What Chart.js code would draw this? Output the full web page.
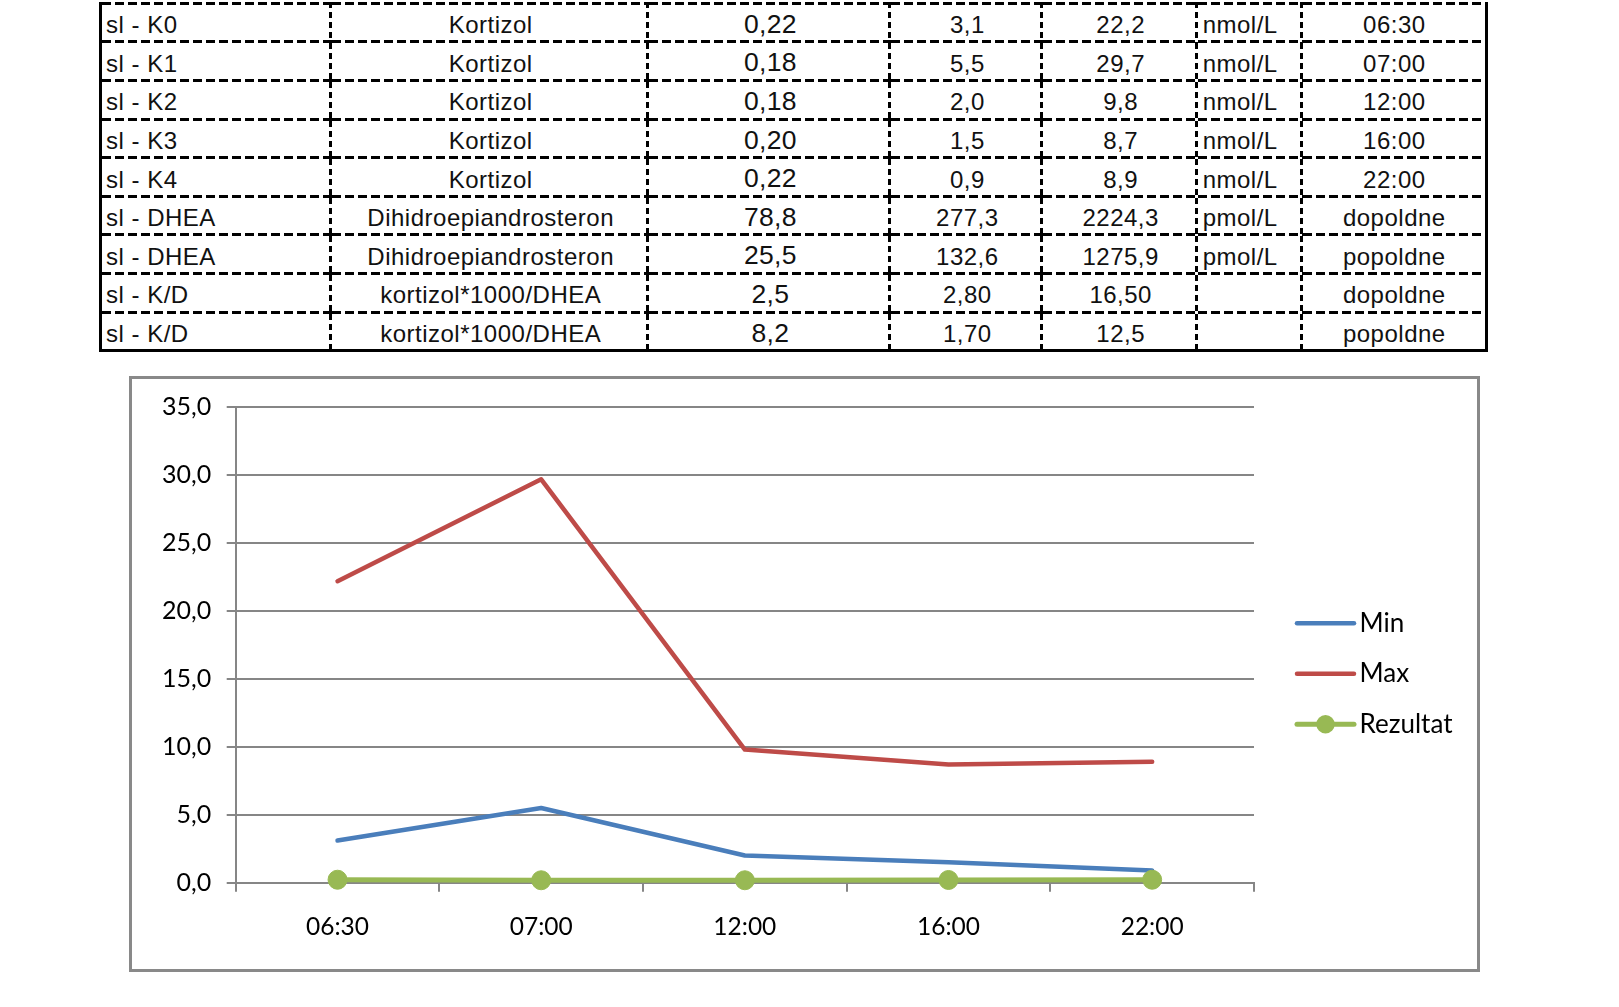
<!DOCTYPE html>
<html>
<head>
<meta charset="utf-8">
<script src="https://cdn.jsdelivr.net/npm/chart.js"></script>
<style>
  html, body { margin: 0; padding: 0; background: #fff; }
  body { width: 1619px; height: 1007px; position: relative; overflow: hidden; }
  #tbl {
    position: absolute; left: 98.5px; top: 1.8px;
    border-collapse: separate; border-spacing: 0; table-layout: fixed;
    border-left: 3px solid #000; border-right: 3px solid #000; border-bottom: 3px solid #000;
    font-family: "Liberation Sans", Arial, sans-serif; font-size: 24px; letter-spacing: 0.5px;
    color: #111;
  }
  #tbl td {
    height: 38.6px; box-sizing: border-box; padding: 6.4px 0 0 0; vertical-align: top;
    line-height: normal; white-space: nowrap; overflow: hidden; text-align: center;
    background:
      repeating-linear-gradient(90deg, #000 0 9px, transparent 9px 13px) left bottom / 100% 3px no-repeat,
      repeating-linear-gradient(180deg, #000 0 6px, transparent 6px 10px) right top / 3px 100% no-repeat;
  }
  #tbl tr:first-child td {
    height: 41.6px; padding-top: 9.4px;
    background:
      repeating-linear-gradient(90deg, #000 0 9px, transparent 9px 13px) left top / 100% 3px no-repeat,
      repeating-linear-gradient(90deg, #000 0 9px, transparent 9px 13px) left bottom / 100% 3px no-repeat,
      repeating-linear-gradient(180deg, #000 0 6px, transparent 6px 10px) right top / 3px 100% no-repeat;
  }
  #tbl tr:last-child td {
    height: 35.6px;
    background: repeating-linear-gradient(180deg, #000 0 6px, transparent 6px 10px) right top / 3px 100% no-repeat;
  }
  #tbl tr:last-child td:nth-child(7) { background: none; }
  #tbl tr:first-child td:nth-child(7) {
    background: repeating-linear-gradient(90deg, #000 0 9px, transparent 9px 13px) left top / 100% 3px no-repeat,
      repeating-linear-gradient(90deg, #000 0 9px, transparent 9px 13px) left bottom / 100% 3px no-repeat;
  }
  #tbl tr:not(:first-child):not(:last-child) td:nth-child(7) {
    background: repeating-linear-gradient(90deg, #000 0 9px, transparent 9px 13px) left bottom / 100% 3px no-repeat;
  }
  #tbl td:nth-child(1) { width: 230.7px; text-align: left; padding-left: 4.5px; }
  #tbl td:nth-child(2) { width: 317px; }
  #tbl td:nth-child(3) { width: 242.3px; font-size: 26.5px; letter-spacing: 0.3px; padding-top: 4.1px; }
  #tbl tr:first-child td:nth-child(3) { padding-top: 7.1px; }
  #tbl td:nth-child(4) { width: 151.7px; }
  #tbl td:nth-child(5) { width: 155px; }
  #tbl td:nth-child(6) { width: 105.3px; text-align: left; padding-left: 4.5px; }
  #tbl td:nth-child(7) { width: 181.7px; }
  #frame {
    position: absolute; left: 129px; top: 376px; width: 1351px; height: 596px;
    box-sizing: border-box; border: 3px solid #898989; background: #fff;
  }
  #frame canvas { display: block; }
</style>
</head>
<body>
<table id="tbl"></table>
<div id="frame"><canvas id="chart"></canvas></div>
<script>
  // table rows
  var tCodes = ['sl - K0', 'sl - K1', 'sl - K2', 'sl - K3', 'sl - K4', 'sl - DHEA', 'sl - DHEA', 'sl - K/D', 'sl - K/D'];
  var tNames = ['Kortizol', 'Kortizol', 'Kortizol', 'Kortizol', 'Kortizol',
    'Dihidroepiandrosteron', 'Dihidroepiandrosteron', 'kortizol*1000/DHEA', 'kortizol*1000/DHEA'];
  var tResults = ['0,22', '0,18', '0,18', '0,20', '0,22', '78,8', '25,5', '2,5', '8,2'];
  var tMins = ['3,1', '5,5', '2,0', '1,5', '0,9', '277,3', '132,6', '2,80', '1,70'];
  var tMaxs = ['22,2', '29,7', '9,8', '8,7', '8,9', '2224,3', '1275,9', '16,50', '12,5'];
  var tUnits = ['nmol/L', 'nmol/L', 'nmol/L', 'nmol/L', 'nmol/L', 'pmol/L', 'pmol/L', '', ''];
  var tTimes = ['06:30', '07:00', '12:00', '16:00', '22:00', 'dopoldne', 'popoldne', 'dopoldne', 'popoldne'];

  // chart data
  var times = ['06:30', '07:00', '12:00', '16:00', '22:00'];
  var minValues = [3.1, 5.5, 2.0, 1.5, 0.9];
  var maxValues = [22.2, 29.7, 9.8, 8.7, 8.9];
  var resultValues = [0.22, 0.18, 0.18, 0.20, 0.22];

  var tbl = document.getElementById('tbl');
  tCodes.forEach(function (code, i) {
    var tr = document.createElement('tr');
    [code, tNames[i], tResults[i], tMins[i], tMaxs[i], tUnits[i], tTimes[i]].forEach(function (txt) {
      var td = document.createElement('td');
      td.textContent = txt;
      tr.appendChild(td);
    });
    tbl.appendChild(tr);
  });

  // legend on the right, drawn like the Excel one (line + marker)
  var sideLegend = {
    id: 'sideLegend',
    afterDraw: function (chart) {
      var ctx = chart.ctx;
      var x0 = chart.chartArea.right + 43;
      ctx.save();
      ctx.font = '26px Lato';
      chart.data.datasets.forEach(function (ds, i) {
        var y = chart.chartArea.bottom - 259.4 + i * 50.5;
        ctx.strokeStyle = ds.borderColor;
        ctx.lineWidth = ds.borderWidth;
        ctx.lineCap = 'round';
        ctx.beginPath();
        ctx.moveTo(x0, y);
        ctx.lineTo(x0 + 57, y);
        ctx.stroke();
        if (ds.pointRadius > 0) {
          ctx.fillStyle = ds.pointBackgroundColor;
          ctx.beginPath();
          ctx.arc(x0 + 28.5, y, 9.2, 0, Math.PI * 2);
          ctx.fill();
        }
        ctx.fillStyle = '#000';
        ctx.textBaseline = 'middle';
        ctx.fillText(ds.label, x0 + 62.5, y);
      });
      ctx.restore();
    }
  };

  var gridGray = '#868686';

  Chart.defaults.font.family = 'Lato';
  Chart.defaults.color = '#000';

  new Chart('chart', {
    type: 'line',
    data: {
      labels: times,
      datasets: [{
        label: 'Min',
        data: minValues,
        borderColor: '#4a7ebb',
        borderWidth: 4.5,
        pointRadius: 0,
        order: 1
      }, {
        label: 'Max',
        data: maxValues,
        borderColor: '#be4b48',
        borderWidth: 4.5,
        pointRadius: 0,
        order: 2
      }, {
        label: 'Rezultat',
        data: resultValues,
        borderColor: '#98b954',
        backgroundColor: '#98b954',
        pointBackgroundColor: '#98b954',
        pointBorderColor: '#98b954',
        borderWidth: 5,
        pointRadius: 9.5,
        pointBorderWidth: 1,
        clip: false,
        order: 0
      }]
    },
    options: {
      responsive: true,
      maintainAspectRatio: false,
      animation: false,
      layout: {
        padding: { top: 28.3, right: 223, left: 0, bottom: 0 }
      },
      elements: {
        line: { tension: 0, borderCapStyle: 'round', borderJoinStyle: 'round' }
      },
      scales: {
        x: {
          offset: true,
          afterFit: function (scale) { scale.height = 86.3; },
          grid: {
            offset: true,
            drawOnChartArea: false,
            drawTicks: true,
            tickLength: 9,
            color: gridGray,
            lineWidth: 2
          },
          border: { color: gridGray, width: 2 },
          ticks: { font: { size: 24.5 }, padding: 21, maxRotation: 0 }
        },
        y: {
          min: 0,
          max: 35,
          afterFit: function (scale) { scale.width = 103.7; },
          grid: { color: gridGray, lineWidth: 2, tickLength: 9 },
          border: { color: gridGray, width: 2 },
          ticks: {
            stepSize: 5,
            padding: 15.5,
            font: { size: 25, lineHeight: 0.8 },
            callback: function (v) { return v.toFixed(1).replace('.', ','); }
          }
        }
      },
      plugins: {
        legend: { display: false },
        tooltip: { enabled: false }
      }
    },
    plugins: [sideLegend]
  });
</script>
</body>
</html>
